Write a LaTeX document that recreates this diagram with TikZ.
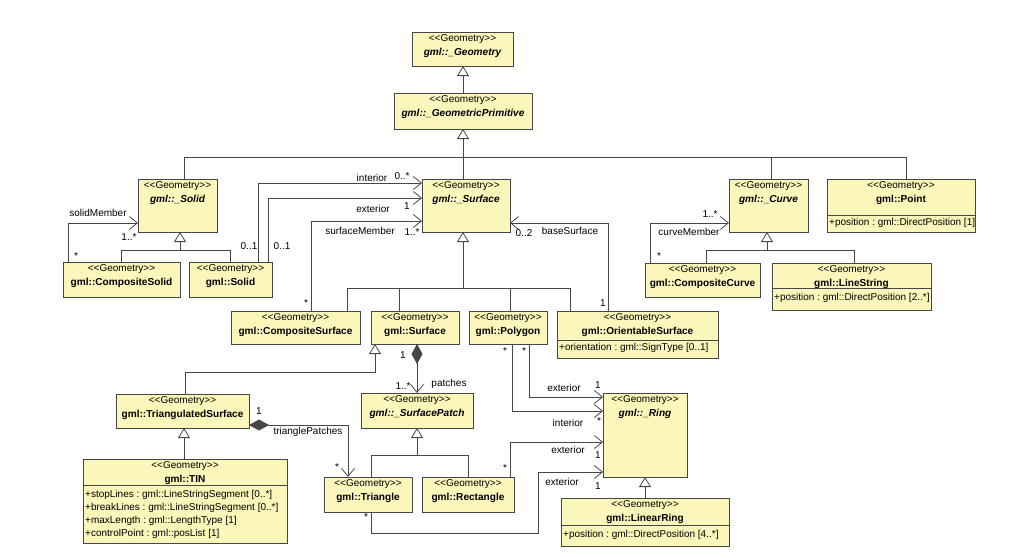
\documentclass[tikz,border=0pt]{standalone}
\usepackage{fontspec}
\setmainfont{Liberation Sans}[Ligatures=TeXOff]
\usetikzlibrary{arrows.meta,fit,calc}
\definecolor{boxfill}{RGB}{251,246,186}
\definecolor{ln}{RGB}{70,70,70}
\frenchspacing
\newcommand\umlclass[7]{%
  \node[cls, fit={(#2,#3) (#4,#5)}] (#1) {};
  \node[st] (#1-s) at ($(#1.north)+(0,7.5)$) {<<Geometry>>};
  \node[#6] (#1-n) at ($(#1.north)+(0,21)$) {#7};
}
\begin{document}
\begin{tikzpicture}[x=1pt,y=-1pt,
  cls/.style={draw=ln, fill=boxfill, line width=0.8pt, inner sep=0pt, outer sep=0pt, rectangle},
  st/.style={font=\fontsize{10}{12}\selectfont, inner sep=0pt},
  nm/.style={font=\fontsize{10.1}{12}\selectfont\bfseries, inner sep=0pt},
  anm/.style={font=\fontsize{10.1}{12}\selectfont\bfseries\itshape, inner sep=0pt},
  attr/.style={font=\fontsize{10}{12}\selectfont, inner sep=0pt, anchor=west},
  lab/.style={font=\fontsize{10}{12}\selectfont, inner sep=0pt},
  line/.style={draw=ln, line width=0.8pt},
  gen/.style={line, -{Triangle[length=10pt,width=12pt,fill=white]}},
  nav/.style={line, -{Straight Barb[length=8pt,width=13pt]}},
  comp/.style={line, {Diamond[length=20pt,width=11pt]}-{Straight Barb[length=8pt,width=13pt]}}]
\useasboundingbox (0,0) rectangle (1024,557);

% ---------- classes ----------
\umlclass{G}{412}{32}{513}{66}{anm}{gml::\_Geometry}
\umlclass{GP}{394}{93}{532}{129}{anm}{gml::\_GeometricPrimitive}
\umlclass{SolidA}{138}{179}{217}{232}{anm}{gml::\_Solid}
\umlclass{CSolid}{63}{262}{180}{297}{nm}{gml::CompositeSolid}
\umlclass{Solid}{189}{262}{272}{297}{nm}{gml::Solid}
\umlclass{SurfA}{422}{179}{510}{232}{anm}{gml::\_Surface}
\umlclass{CurveA}{729}{179}{808}{232}{anm}{gml::\_Curve}
\umlclass{Point}{827}{179}{975}{232}{nm}{gml::Point}
\umlclass{CCurve}{645}{263}{760}{297}{nm}{gml::CompositeCurve}
\umlclass{LineStr}{772}{263}{931}{310}{nm}{gml::LineString}
\umlclass{CSurf}{231}{311}{360}{344}{nm}{gml::CompositeSurface}
\umlclass{Surface}{371}{311}{459}{344}{nm}{gml::Surface}
\umlclass{Polygon}{469}{311}{547}{344}{nm}{gml::Polygon}
\umlclass{OSurf}{557}{311}{718}{358}{nm}{gml::OrientableSurface}
\umlclass{TriSurf}{116}{394}{249}{428}{nm}{gml::TriangulatedSurface}
\umlclass{SPatch}{361}{393}{473}{428}{anm}{gml::\_SurfacePatch}
\umlclass{Ring}{603}{393}{687}{477}{anm}{gml::\_Ring}
\umlclass{TIN}{83}{459}{287}{543}{nm}{gml::TIN}
\umlclass{Triangle}{324}{477}{412}{512}{nm}{gml::Triangle}
\umlclass{Rectangle}{422}{477}{514}{512}{nm}{gml::Rectangle}
\umlclass{LRing}{561}{498}{729}{546}{nm}{gml::LinearRing}

% dividers and attributes
\draw[line] (Point.west |- 0,215) -- (Point.east |- 0,215);
\node[attr] (Point-a) at (829,223) {+position : gml::DirectPosition [1]};
\draw[line] (LineStr.west |- 0,288) -- (LineStr.east |- 0,288);
\node[attr] (LineStr-a) at (774,298) {+position : gml::DirectPosition [2..*]};
\draw[line] (OSurf.west |- 0,340) -- (OSurf.east |- 0,340);
\node[attr] (OSurf-a) at (559,348) {+orientation : gml::SignType [0..1]};
\draw[line] (TIN.west |- 0,485) -- (TIN.east |- 0,485);
\node[attr] (TIN-a1) at (85,495) {+stopLines : gml::LineStringSegment [0..*]};
\node[attr] (TIN-a2) at (85,508) {+breakLines : gml::LineStringSegment [0..*]};
\node[attr] (TIN-a3) at (85,521) {+maxLength : gml::LengthType [1]};
\node[attr] (TIN-a4) at (85,534) {+controlPoint : gml::posList [1]};
\draw[line] (LRing.west |- 0,525) -- (LRing.east |- 0,525);
\node[attr] (LRing-a) at (563,535) {+position : gml::DirectPosition [4..*]};

% ---------- generalizations ----------
\draw[gen] (GP.north) -- (GP.north |- G.south);
\coordinate (tb) at (463,157);
\draw[gen] (tb |- SurfA.north) -- (tb |- GP.south);
\draw[line] (SolidA.north -| 184,0) |- (tb -| 906,0) -- (Point.north -| 906,0);
\draw[line] (CurveA.north -| 771,0) -- (tb -| 771,0);

\coordinate (sb) at (180,250);
\draw[gen] (sb) -- (sb |- SolidA.south);
\draw[line] (CSolid.north) |- (sb -| Solid.north) -- (Solid.north);

\coordinate (fb) at (463,288);
\draw[gen] (fb) -- (fb |- SurfA.south);
\draw[line] (CSurf.north -| 347,0) -- (fb -| 347,0) -- (fb -| 570,0) -- (OSurf.north -| 570,0);
\draw[line] (Surface.north -| 399,0) -- (fb -| 399,0);
\draw[line] (Polygon.north -| 510,0) -- (fb -| 510,0);

\coordinate (tsb) at (185,372);
\draw[gen] (TriSurf.north -| tsb) -- (tsb) -| (Surface.south -| 375,0);
\draw[gen] (TIN.north -| 184,0) -- (TriSurf.south -| 184,0);

\coordinate (pb) at (417,455);
\draw[gen] (pb) -- (pb |- SPatch.south);
\draw[line] (Triangle.north -| 371,0) |- (pb -| Rectangle.north) -- (Rectangle.north);

\draw[gen] (LRing.north) -- (Ring.south);

\coordinate (cb) at (767,250);
\draw[gen] (cb) -- (cb |- CurveA.south);
\draw[line] (CCurve.north -| 706,0) |- (cb -| 854,0) -- (LineStr.north -| 854,0);

% ---------- associations ----------
\draw[nav] (CSolid.north -| 68,0) |- (SolidA.west |- 0,223);
\draw[nav] (Solid.north -| 258,0) |- (SurfA.west |- 0,183);
\draw[nav] (Solid.north -| 268,0) |- (SurfA.west |- 0,198);
\draw[nav] (CSurf.north -| 311,0) |- (SurfA.west |- 0,221);
\draw[nav] (OSurf.north -| 608,0) |- (SurfA.east |- 0,223);
\draw[nav] (CCurve.north -| 650,0) |- (CurveA.west |- 0,223);
\draw[comp] (Surface.south -| 417,0) -- (SPatch.north -| 417,0);
\draw[comp] (TriSurf.east |- 0,425) -| (Triangle.north -| 348,0);
\draw[nav] (Polygon.south -| 529,0) |- (Ring.west |- 0,397);
\draw[nav] (Polygon.south -| 512,0) |- (Ring.west |- 0,411);
\draw[nav] (Rectangle.north -| 510,0) |- (Ring.west |- 0,442);
\coordinate (tx) at (538,533);
\draw[nav] (Triangle.south -| 371,0) |- (tx) |- (Ring.west |- 0,472);

% ---------- labels ----------
\node[lab] (l1) at (98,213) {solidMember};
\node[lab] (l2) at (129,237) {1..*};
\node[lab] (l3) at (76,256) {*};
\node[lab] (l4) at (249,246) {0..1};
\node[lab] (l5) at (282,246) {0..1};
\node[lab] (l6) at (372,178) {interior};
\node[lab] (l7) at (402,176) {0..*};
\node[lab] (l8) at (373,209) {exterior};
\node[lab] (l9) at (407,206) {1};
\node[lab] (l10) at (360,231) {surfaceMember};
\node[lab] (l11) at (412,232) {1..*};
\node[lab] (l12) at (524,233) {0..2};
\node[lab] (l13) at (570,231) {baseSurface};
\node[lab] (l14) at (603,303) {1};
\node[lab] (l15) at (306,303) {*};
\node[lab] (l16) at (403,355) {1};
\node[lab] (l17) at (403,386) {1..*};
\node[lab] (l18) at (449,384) {patches};
\node[lab] (l19) at (505,351) {*};
\node[lab] (l20) at (524,351) {*};
\node[lab] (l21) at (564,388) {exterior};
\node[lab] (l22) at (598,385) {1};
\node[lab] (l23) at (568,423) {interior};
\node[lab] (l24) at (599,421) {*};
\node[lab] (l25) at (568,450) {exterior};
\node[lab] (l26) at (598,455) {1};
\node[lab] (l27) at (505,468) {*};
\node[lab] (l28) at (562,482) {exterior};
\node[lab] (l29) at (598,486) {1};
\node[lab] (l30) at (366,517) {*};
\node[lab] (l31) at (259,411) {1};
\node[lab] (l32) at (308,432) {trianglePatches};
\node[lab] (l33) at (337,467) {*};
\node[lab] (l34) at (710,214) {1..*};
\node[lab] (l35) at (689,232) {curveMember};
\node[lab] (l36) at (659,256) {*};
\end{tikzpicture}
\end{document}
